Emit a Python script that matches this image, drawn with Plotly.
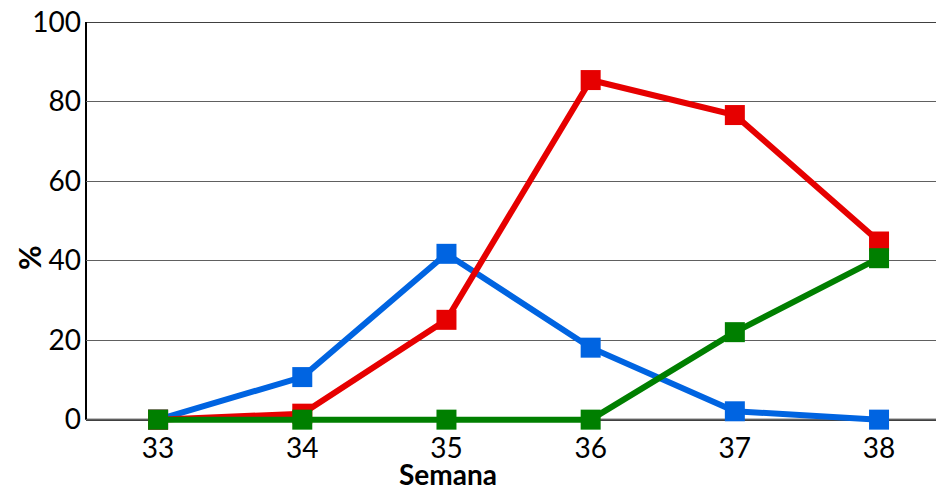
import plotly.graph_objects as go

weeks = [33, 34, 35, 36, 37, 38]
blue_vals = [0, 10.7, 41.7, 18.1, 2.1, 0]
red_vals = [0, 1.5, 25.1, 85.4, 76.6, 44.8]
green_vals = [0, 0, 0, 0, 22.0, 40.6]
y_ticks = [0, 20, 40, 60, 80, 100]

series = [
    ("Azul", blue_vals, "#0064E1"),
    ("Rojo", red_vals, "#E60000"),
    ("Verde", green_vals, "#007F00"),
]

FONT = "Lato, Open Sans, sans-serif"

fig = go.Figure()
for name, vals, col in series:
    fig.add_trace(go.Scatter(
        x=weeks, y=vals, name=name, mode="lines+markers",
        line=dict(color=col, width=6),
        marker=dict(symbol="square", size=20, color=col),
        cliponaxis=False,
    ))

fig.update_layout(
    width=936, height=490,
    margin=dict(l=86, r=0, t=22, b=64),
    paper_bgcolor="white", plot_bgcolor="white",
    showlegend=False,
    font=dict(family=FONT, color="black"),
    xaxis=dict(
        range=[32.5, 38.395], tickvals=weeks, ticktext=[str(w) for w in weeks],
        showgrid=False, zeroline=False, showline=False,
        tickfont=dict(size=28), ticks="", automargin=False,
        ticklabelstandoff=3,
    ),
    yaxis=dict(
        range=[-1.6, 100], tickvals=y_ticks, showgrid=True,
        gridcolor="#606060", gridwidth=1, zeroline=False,
        showline=False,
        tickfont=dict(size=28), ticks="", automargin=False,
        ticklabelstandoff=4,
    ),
    annotations=[
        dict(text="<b>Semana</b>", xref="paper", yref="paper",
             x=(448 - 86) / 850, y=(426 - 474) / 404,
             xanchor="center", yanchor="middle", showarrow=False,
             font=dict(size=28, family=FONT)),
        dict(text="<b>%</b>", xref="paper", yref="paper",
             x=(29 - 86) / 850, y=(426 - 258) / 404, textangle=-90,
             xanchor="center", yanchor="middle", showarrow=False,
             font=dict(size=30, family=FONT)),
    ],
)
fig.add_hline(y=0, line=dict(color="black", width=2), layer="below")
fig.add_hline(y=100, line=dict(color="black", width=1.5), layer="below")
fig.add_shape(type="line", xref="paper", yref="y", x0=0, x1=0, y0=0, y1=100,
              line=dict(color="black", width=2), layer="below")
fig.write_html("out.html", config={"displayModeBar": False},
               post_script="document.body.style.margin='0';document.body.style.overflow='hidden';")
